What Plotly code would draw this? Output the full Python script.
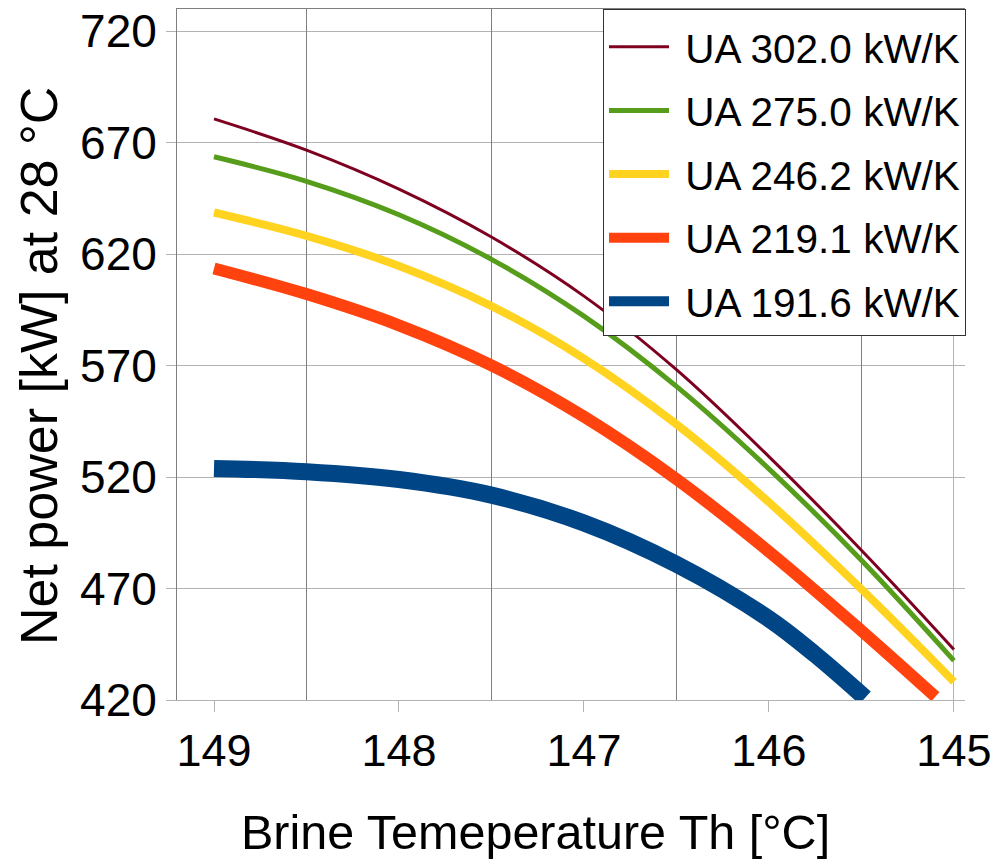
import plotly.graph_objects as go

# ---- data ----
temps = [149.0, 148.5, 148.0, 147.5, 147.0, 146.5, 146.0, 145.5, 145.0]
ua302 = [680.7, 666.7, 649.2, 627.7, 601.2, 568.2, 529.2, 487.2, 442.7]
ua275 = [663.7, 652.7, 637.7, 617.7, 592.2, 560.7, 523.7, 482.7, 437.7]
ua246 = [638.7, 628.2, 614.7, 596.7, 573.2, 543.7, 508.7, 469.7, 428.2]
temps219 = [149.0, 148.5, 148.0, 147.5, 147.0, 146.5, 146.0, 145.5, 145.1]
ua219 = [613.6, 602.1, 588.1, 570.1, 547.1, 519.1, 486.6, 451.1, 421.5]
temps191 = [149.0, 148.5, 148.0, 147.5, 147.0, 146.5, 146.0, 145.75, 145.48]
ua191 = [523.9, 522.4, 518.9, 511.9, 499.4, 480.9, 456.4, 440.4, 421.0]

series_names = ["UA 302.0 kW/K", "UA 275.0 kW/K", "UA 246.2 kW/K",
                "UA 219.1 kW/K", "UA 191.6 kW/K"]
colors = ["#7e0021", "#579d1c", "#ffd320", "#ff420e", "#004586"]
widths = [3, 5, 8, 12, 17]

x_ticks = [149, 148, 147, 146, 145]
x_half_grid = [148.5, 147.5, 146.5, 145.5]
x_end_grid = [145]
y_ticks = [420, 470, 520, 570, 620, 670, 720]

X_RANGE = [149.2, 144.94]
FONT = "Liberation Sans"
DARK = "#7f7f7f"
LIGHT = "#b3b3b3"
NBSP = "\u00a0"

W, H = 997, 859
ML, MT = 177, 9
PW, PH = 788, 691

fig = go.Figure()
xs = [temps, temps, temps, temps219, temps191]
ys = [ua302, ua275, ua246, ua219, ua191]
for i in range(5):
    fig.add_trace(go.Scatter(
        x=xs[i], y=ys[i], mode="lines", name=NBSP + series_names[i],
        line=dict(color=colors[i], width=widths[i], shape="spline", smoothing=1.0),
        legendgroup=f"g{i}",
    ))

# empty helper traces so the overlay grid axes get drawn
fig.add_trace(go.Scatter(x=[], y=[], xaxis="x2", yaxis="y", showlegend=False, hoverinfo="skip"))
fig.add_trace(go.Scatter(x=[], y=[], xaxis="x3", yaxis="y", showlegend=False, hoverinfo="skip"))

fig.update_layout(
    width=W, height=H,
    margin=dict(l=ML, r=W - ML - PW, t=MT, b=H - MT - PH, autoexpand=False),
    paper_bgcolor="white", plot_bgcolor="white",
    font=dict(family=FONT, color="black"),
    showlegend=True,
    legend=dict(
        x=(603 - ML) / PW, xanchor="left", y=1, yanchor="top",
        bgcolor="white", bordercolor="#333333", borderwidth=1,
        font=dict(family=FONT, size=40.5, color="black"),
        tracegroupgap=8, itemwidth=60,
        title=dict(text=NBSP, font=dict(size=3)),
    ),
    xaxis=dict(
        range=X_RANGE, tickvals=x_ticks, ticktext=[str(v) for v in x_ticks],
        showgrid=False, zeroline=False, automargin=False,
        showline=True, linecolor=LIGHT, linewidth=1,
        ticks="outside", ticklen=11, tickcolor=LIGHT,
        tickfont=dict(family=FONT, size=45, color="black"),
        ticklabeloverflow="allow",
    ),
    xaxis2=dict(
        overlaying="x", side="top", anchor="y", range=X_RANGE, automargin=False,
        tickvals=x_half_grid, showticklabels=False, ticks="",
        showgrid=True, gridcolor=DARK, gridwidth=1, zeroline=False,
        showline=True, linecolor=DARK, linewidth=1,
    ),
    xaxis3=dict(
        overlaying="x", side="bottom", anchor="y", range=X_RANGE, automargin=False,
        tickvals=x_end_grid, showticklabels=False, ticks="",
        showgrid=True, gridcolor=LIGHT, gridwidth=1, zeroline=False,
        showline=False,
    ),
    yaxis=dict(
        range=[420, 730], tickvals=y_ticks, ticktext=[str(v) for v in y_ticks],
        showgrid=True, gridcolor=LIGHT, gridwidth=1, zeroline=False, automargin=False,
        showline=True, linecolor=DARK, linewidth=1,
        ticks="outside", ticklen=10, tickcolor=LIGHT,
        tickfont=dict(family=FONT, size=46, color="black"),
        ticklabeloverflow="allow",
    ),
    annotations=[
        dict(text="Brine Temeperature Th [°C]", xref="paper", yref="paper",
             x=(535.5 - ML) / PW, y=-(832 - (MT + PH)) / PH,
             xanchor="center", yanchor="middle", showarrow=False,
             font=dict(family=FONT, size=48.5, color="black")),
        dict(text="Net power [kW] at 28 °C", xref="paper", yref="paper",
             x=(39 - ML) / PW, y=1 - (366 - MT) / PH, textangle=-90,
             xanchor="center", yanchor="middle", showarrow=False,
             font=dict(family=FONT, size=52, color="black")),
    ],
)

# remove the default 8px page margin so the figure fills the window exactly
fig.write_html("out.html",
               config={"displayModeBar": False},
               post_script="document.body.style.margin='0';document.body.style.overflow='hidden';")
